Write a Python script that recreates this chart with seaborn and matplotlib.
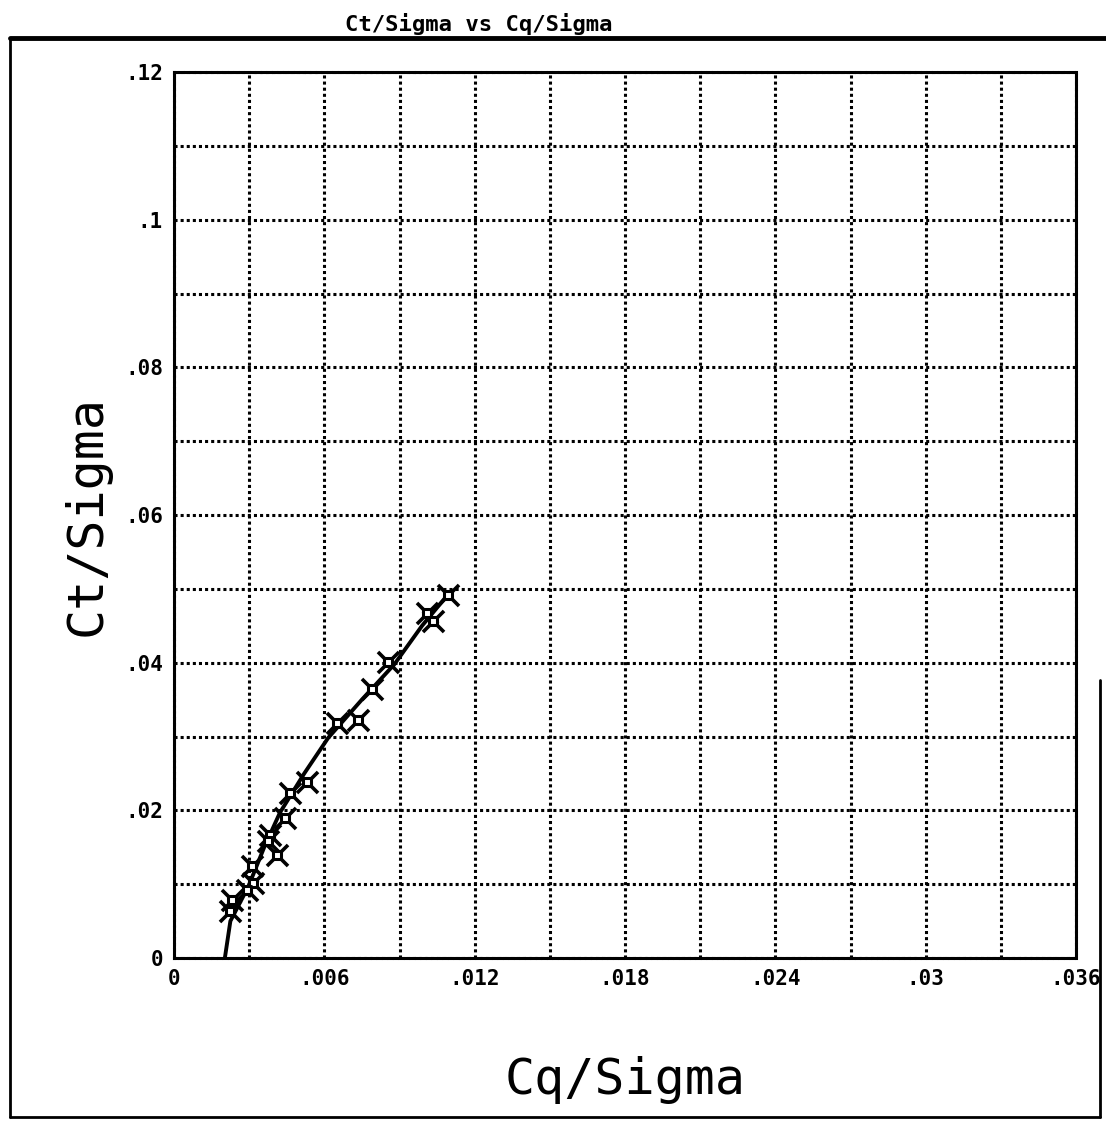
"""Ct/Sigma vs Cq/Sigma plotter-style chart."""

import matplotlib

matplotlib.use("Agg")
import matplotlib.pyplot as plt
import numpy as np
import pandas as pd
import seaborn as sns
from matplotlib.lines import Line2D

# measured points
cq_sigma = [0.01094, 0.01008, 0.01034, 0.00855, 0.00789, 0.00735, 0.00649,
            0.00530, 0.00463, 0.00443, 0.00383, 0.00375, 0.00410, 0.00310,
            0.00316, 0.00290, 0.00230, 0.00223]
ct_sigma = [0.0492, 0.0467, 0.0456, 0.0401, 0.0365, 0.0322, 0.0318,
            0.0238, 0.0224, 0.0190, 0.0167, 0.0158, 0.0140, 0.0124,
            0.0101, 0.0092, 0.0079, 0.0063]

# fitted curve
fit_cq = [0.00203, 0.00225, 0.00297, 0.00360, 0.00423, 0.00520, 0.00615,
          0.00750, 0.00880, 0.00990, 0.01100]
fit_ct = [0.0000, 0.0050, 0.0097, 0.0150, 0.0197, 0.0250, 0.0298,
          0.0350, 0.0398, 0.0450, 0.0495]

x_ticks = [0, 0.006, 0.012, 0.018, 0.024, 0.03, 0.036]
x_tick_labels = ["0", ".006", ".012", ".018", ".024", ".03", ".036"]
y_ticks = [0, 0.02, 0.04, 0.06, 0.08, 0.1, 0.12]
y_tick_labels = ["0", ".02", ".04", ".06", ".08", ".1", ".12"]

points = pd.DataFrame({"cq": cq_sigma, "ct": ct_sigma})
fit = pd.DataFrame({"cq": fit_cq, "ct": fit_ct})

sns.set_theme(style="white")
plt.rcParams["font.family"] = ["DejaVu Sans Mono", "DejaVu Sans"]

fig = plt.figure(figsize=(11.06, 11.23), dpi=100)
ax = fig.add_axes([174 / 1106, 1 - 958 / 1123, (1076 - 174) / 1106, (958 - 72) / 1123])

sns.lineplot(data=fit, x="cq", y="ct", sort=False, color="black", linewidth=2.8, ax=ax)
sns.scatterplot(data=points, x="cq", y="ct", marker="x", s=230, color="black",
                linewidth=2.6, ax=ax, zorder=4)
sns.scatterplot(data=points, x="cq", y="ct", marker="s", s=40, facecolor="white",
                edgecolor="black", linewidth=2.2, ax=ax, zorder=5)

ax.set_xlim(0, 0.036)
ax.set_ylim(0, 0.12)
ax.set_xticks(x_ticks)
ax.set_xticklabels(x_tick_labels, fontsize=15, fontweight="bold")
ax.set_yticks(y_ticks)
ax.set_yticklabels(y_tick_labels, fontsize=15, fontweight="bold")
ax.set_xticks(np.arange(0, 0.0361, 0.003), minor=True)
ax.set_yticks(np.arange(0, 0.1201, 0.01), minor=True)
ax.grid(True, which="both", color="black", linestyle=(0, (1, 1.0)), linewidth=2.2)
ax.tick_params(axis="both", which="both", length=0, pad=8, colors="black")
for spine in ax.spines.values():
    spine.set_color("black")
    spine.set_linewidth(2.2)
    spine.set_linestyle((0, (1, 0.8)))

ax.set_xlabel("Cq/Sigma", fontsize=36, labelpad=48, color="black")
ax.set_ylabel("Ct/Sigma", fontsize=36, labelpad=10, color="black")

fig.text(479 / 1106, 1 - 24 / 1123, "Ct/Sigma vs Cq/Sigma", ha="center", va="center",
         fontsize=16, fontweight="bold", color="black")

# outer frame of the plotter sheet
fig.add_artist(Line2D([10 / 1106, 1106 / 1106], [1 - 38 / 1123] * 2, color="black", linewidth=3.5))
fig.add_artist(Line2D([10 / 1106] * 2, [1 - 38 / 1123, 1 - 1117 / 1123], color="black", linewidth=2))
fig.add_artist(Line2D([10 / 1106, 1100 / 1106], [1 - 1117 / 1123] * 2, color="black", linewidth=2))
fig.add_artist(Line2D([1100 / 1106] * 2, [1 - 680 / 1123, 1 - 1117 / 1123], color="black", linewidth=2))

fig.savefig("out.png", dpi=100, facecolor="white")
